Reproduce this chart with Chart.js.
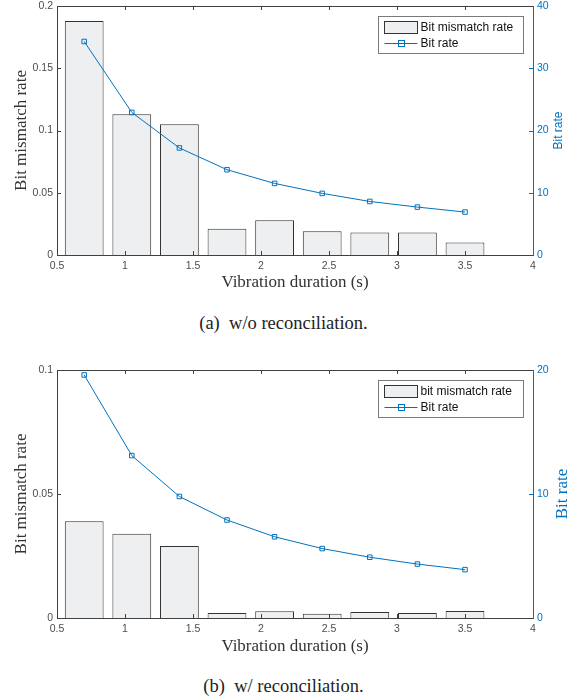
<!DOCTYPE html>
<html><head><meta charset="utf-8">
<script src="https://cdn.jsdelivr.net/npm/chart.js@4.4.0/dist/chart.umd.min.js"></script>
<style>
html,body{margin:0;padding:0;background:#fff;}
#wrap{position:relative;width:579px;height:700px;overflow:hidden;background:#fff;}
.box{position:absolute;left:0;width:579px;height:300px;}
.cap{position:absolute;left:0;width:567px;text-align:center;font-family:'Liberation Serif','Times New Roman',serif;font-size:18.5px;color:#222;white-space:pre;}
</style></head><body>
<div id="wrap">
<div class="box" style="top:0px"><canvas id="ca" width="579" height="300"></canvas></div>
<div class="cap" style="top:313px">(a)  w/o reconciliation.</div>
<div class="box" style="top:364px"><canvas id="cb" width="579" height="300"></canvas></div>
<div class="cap" style="top:676px">(b)  w/ reconciliation.</div>
</div>
<script>
// ---- data ----
const durations = [0.7, 1.05, 1.4, 1.75, 2.1, 2.45, 2.8, 3.15, 3.5];
const mismatchA = [0.188, 0.113, 0.105, 0.021, 0.028, 0.019, 0.018, 0.018, 0.010];
const bitRateA  = [34.3, 22.9, 17.2, 13.7, 11.5, 9.9, 8.6, 7.7, 6.9];
const mismatchB = [0.039, 0.034, 0.029, 0.002, 0.0027, 0.0017, 0.0024, 0.002, 0.0028];
const bitRateB  = [19.6, 13.1, 9.8, 7.9, 6.55, 5.6, 4.9, 4.35, 3.9];
const xTicks   = [0.5, 1, 1.5, 2, 2.5, 3, 3.5, 4];
const yTicksA  = [0, 0.05, 0.1, 0.15, 0.2];
const y1TicksA = [0, 10, 20, 30, 40];
const yTicksB  = [0, 0.05, 0.1];
const y1TicksB = [0, 10, 20];
const xTitle = 'Vibration duration (s)';
const yTitle = 'Bit mismatch rate';
const y1Title = 'Bit rate';
const barLabelA = 'Bit mismatch rate';
const barLabelB = 'bit mismatch rate';
const lineLabel = 'Bit rate';

const BLUE = '#0072BD';
const AXIS = '#404040';
const TICKC = '#4d4d4d';
const SANS = "'Liberation Sans', Arial, sans-serif";
const SERIF = "'Liberation Serif', 'Times New Roman', serif";

const framePlugin = {
  id: 'frame',
  afterDatasetsDraw(chart, args, opts) {
    const {ctx, chartArea: a, scales} = chart;
    ctx.save();
    ctx.lineWidth = 1;
    const ln = (x1, y1, x2, y2, c) => { ctx.strokeStyle = c; ctx.beginPath(); ctx.moveTo(x1, y1); ctx.lineTo(x2, y2); ctx.stroke(); };
    // top border
    ln(a.left, a.top + 0.5, a.right, a.top + 0.5, AXIS);
    const TL = 4;
    scales.x.ticks.forEach(t => {
      const px = Math.round(scales.x.getPixelForValue(t.value)) + 0.5;
      if (px <= a.left + 1 || px >= a.right - 1) return;
      ln(px, a.bottom, px, a.bottom - TL, AXIS);
      ln(px, a.top, px, a.top + TL, AXIS);
    });
    scales.y.ticks.forEach(t => {
      const py = Math.round(scales.y.getPixelForValue(t.value)) + 0.5;
      if (py <= a.top + 1 || py >= a.bottom - 1) return;
      ln(a.left, py, a.left + TL, py, AXIS);
    });
    scales.y1.ticks.forEach(t => {
      const py = Math.round(scales.y1.getPixelForValue(t.value)) + 0.5;
      if (py <= a.top + 1 || py >= a.bottom - 1) return;
      ln(a.right, py, a.right - TL, py, BLUE);
    });
    // right axis title (reads bottom to top)
    ctx.save();
    ctx.translate(opts.titleX, (a.top + a.bottom) / 2);
    ctx.rotate(-Math.PI / 2);
    ctx.fillStyle = BLUE;
    ctx.font = opts.titleFont;
    ctx.textAlign = 'center';
    ctx.textBaseline = 'middle';
    ctx.fillText(y1Title, 0, 0);
    ctx.restore();
    // legend
    const ds = chart.data.datasets;
    const bw = 145, bh = 37;
    const bx = Math.round(a.right - 10 - bw) + 0.5, by = Math.round(a.top + 10) + 0.5;
    ctx.fillStyle = '#fff';
    ctx.fillRect(bx, by, bw, bh);
    ctx.strokeStyle = '#7a7a7a';
    ctx.strokeRect(bx, by, bw, bh);
    const r1 = by + 11, r2 = by + 27;
    ctx.fillStyle = ds[0].backgroundColor;
    ctx.fillRect(bx + 6, r1 - 6, 33, 12);
    ctx.strokeStyle = '#333';
    ctx.strokeRect(bx + 6, r1 - 6, 33, 12);
    ln(bx + 6, r2, bx + 39, r2, BLUE);
    ctx.strokeStyle = BLUE;
    ctx.strokeRect(bx + 20, r2 - 3, 6, 6);
    ctx.fillStyle = '#111';
    ctx.font = '12px ' + SANS;
    ctx.textAlign = 'left';
    ctx.textBaseline = 'middle';
    ctx.fillText(ds[0].label, bx + 42, r1 + 0.5);
    ctx.fillText(ds[1].label, bx + 42, r2 + 0.5);
    ctx.restore();
  }
};

function makeChart(id, barLabel, bars, rates, yTicks, y1Ticks, xHeight, rTitleFont, rTitleX) {
  const setTicks = arr => s => { s.ticks = arr.map(v => ({value: v})); };
  return new Chart(document.getElementById(id), {
    type: 'bar',
    data: {
      datasets: [
        {
          type: 'bar', label: barLabel,
          data: durations.map((d, i) => ({x: d, y: bars[i]})),
          backgroundColor: '#eeeff1', borderColor: '#333', borderWidth: 1,
          barPercentage: 0.815, categoryPercentage: 1, yAxisID: 'y', order: 2
        },
        {
          type: 'line', label: lineLabel,
          data: durations.map((d, i) => ({x: d, y: rates[i]})),
          borderColor: BLUE, borderWidth: 1, tension: 0, fill: false,
          pointStyle: 'rect', pointRadius: 3.2, pointBorderWidth: 1,
          pointBackgroundColor: 'rgba(0,0,0,0)', pointBorderColor: BLUE,
          yAxisID: 'y1', order: 1
        }
      ]
    },
    options: {
      responsive: false, animation: false, devicePixelRatio: 1,
      layout: {padding: {top: 6, left: 0, right: 0, bottom: 0}},
      plugins: {legend: {display: false}, tooltip: {enabled: false},
        frame: {titleFont: rTitleFont, titleX: rTitleX}},
      scales: {
        x: {
          type: 'linear', position: 'bottom', min: 0.5, max: 4, offset: false,
          grid: {display: false, drawTicks: false, offset: false},
          border: {display: true, color: AXIS, width: 1},
          afterBuildTicks: setTicks(xTicks),
          ticks: {font: {family: SANS, size: 10.5}, color: TICKC, padding: 5, maxRotation: 0, autoSkip: false,
            callback: v => String(v)},
          title: {display: true, text: xTitle, color: '#333', font: {family: SERIF, size: 17}, padding: {top: 0, bottom: 7}},
          afterFit: s => { s.height = xHeight; s.paddingLeft = 0; s.paddingRight = 0; }
        },
        y: {
          type: 'linear', position: 'left', min: yTicks[0], max: yTicks[yTicks.length - 1],
          grid: {display: false, drawTicks: false},
          border: {display: true, color: AXIS, width: 1},
          afterBuildTicks: setTicks(yTicks),
          ticks: {font: {family: SANS, size: 10.5}, color: TICKC, padding: 4, callback: v => String(v)},
          title: {display: true, text: yTitle, color: '#333', font: {family: SERIF, size: 17}, padding: {top: 11, bottom: 0}},
          afterFit: s => { s.width = 57; s.paddingTop = 0; s.paddingBottom = 0; }
        },
        y1: {
          type: 'linear', position: 'right', min: y1Ticks[0], max: y1Ticks[y1Ticks.length - 1],
          grid: {display: false, drawTicks: false},
          border: {display: true, color: BLUE, width: 1},
          afterBuildTicks: setTicks(y1Ticks),
          ticks: {font: {family: SANS, size: 10.5}, color: BLUE, padding: 4, callback: v => String(v)},
          afterFit: s => { s.width = 46; s.paddingTop = 0; s.paddingBottom = 0; }
        }
      }
    },
    plugins: [framePlugin]
  });
}

makeChart('ca', barLabelA, mismatchA, bitRateA, yTicksA, y1TicksA, 45, '12px ' + SANS, 559);
makeChart('cb', barLabelB, mismatchB, bitRateB, yTicksB, y1TicksB, 46, '17px ' + SERIF, 563);
</script>
</body></html>
